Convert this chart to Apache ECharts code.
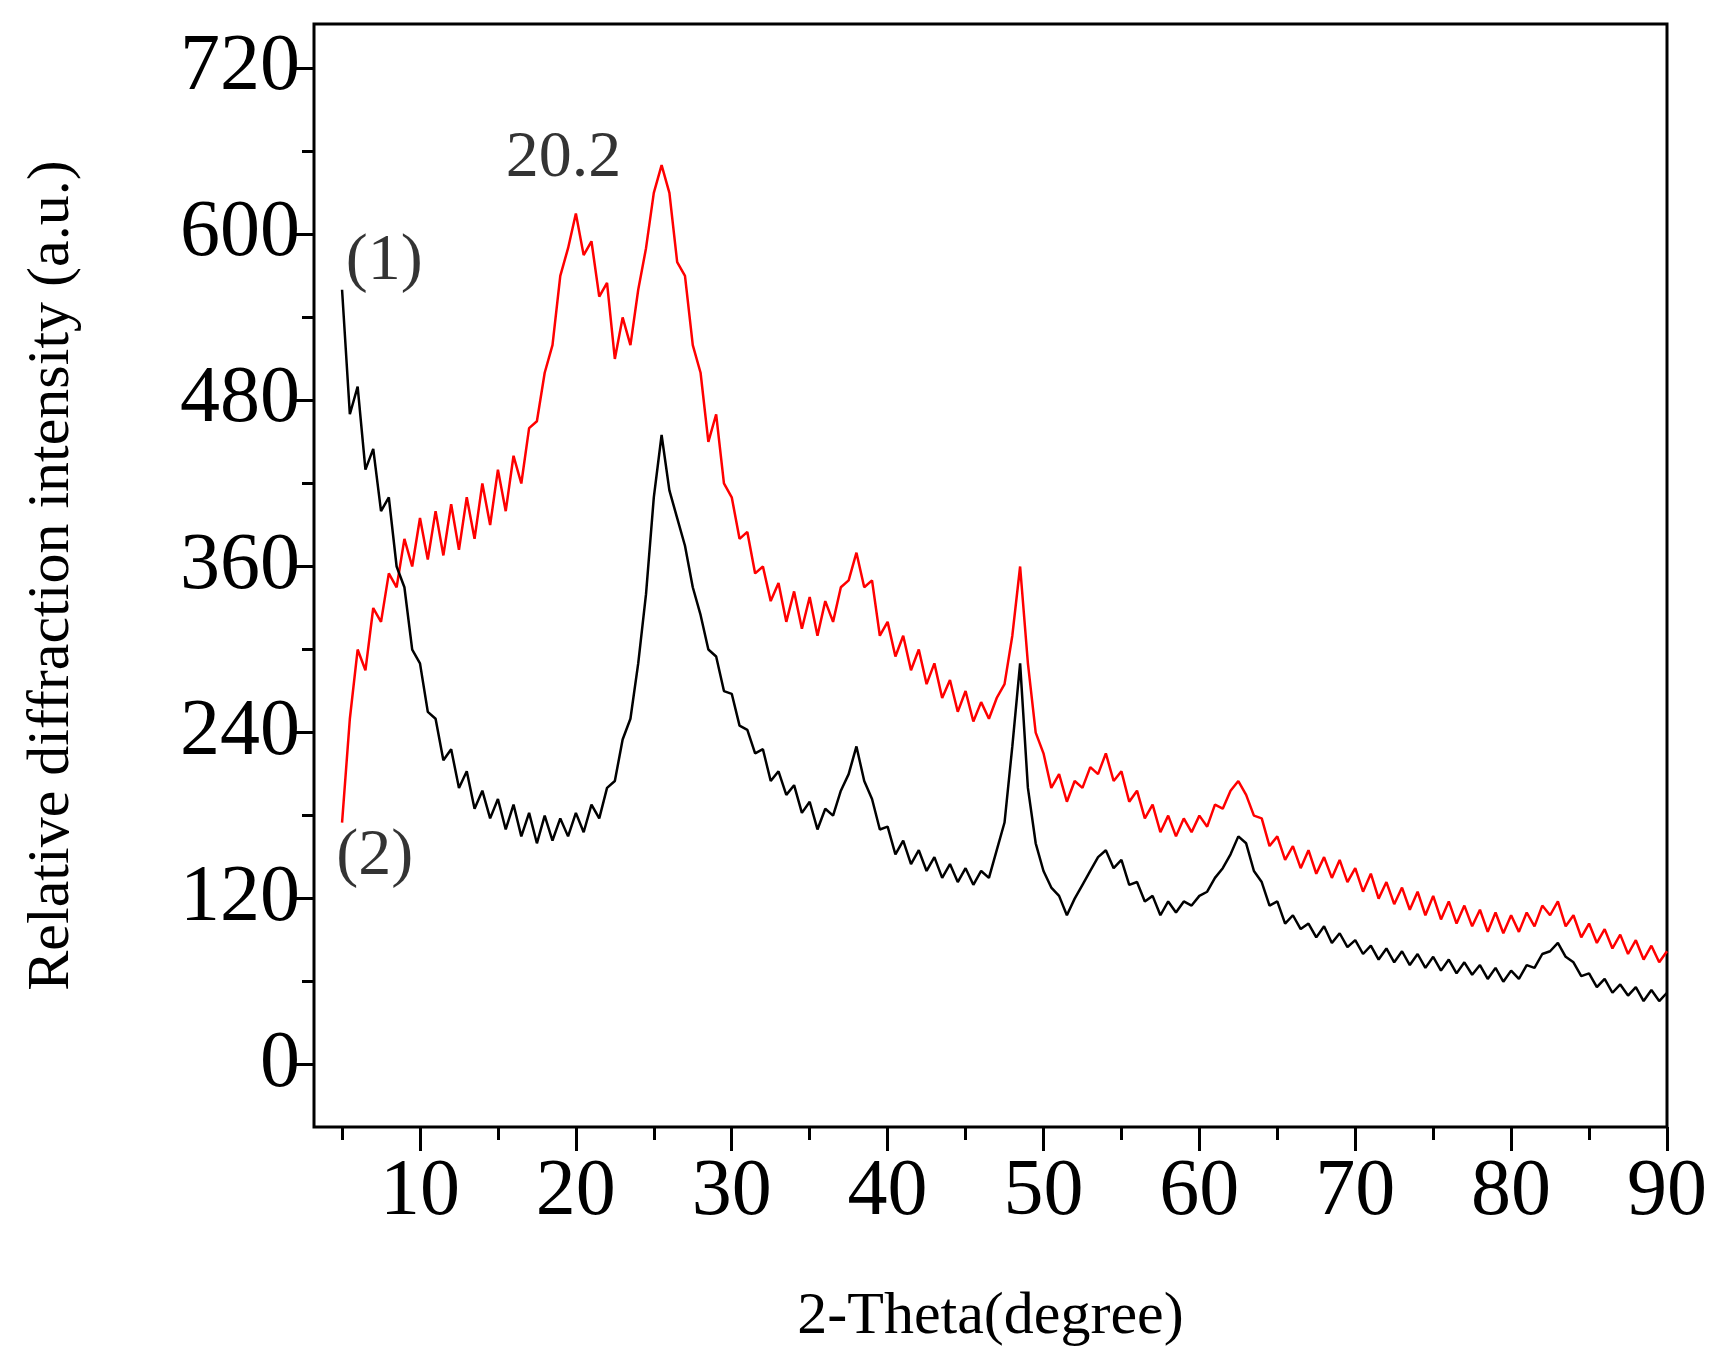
<!DOCTYPE html>
<html><head><meta charset="utf-8">
<script src="https://cdn.jsdelivr.net/npm/echarts@6/dist/echarts.min.js"></script>
<style>html,body{margin:0;background:#fff}#c{width:1719px;height:1356px}</style>
</head><body><div id="c"></div>
<script>
const xStart = 5, xStep = 0.5;
const series2Black = [560,470,490,430,445,400,410,360,345,300,290,255,250,220,228,200,212,185,198,178,192,170,188,165,182,160,180,162,178,165,182,168,188,178,200,205,235,250,290,340,410,455,415,395,375,345,325,300,295,270,268,245,242,225,228,205,212,195,202,182,190,170,185,180,198,210,230,205,192,170,172,152,162,145,155,140,150,135,145,132,142,130,140,135,155,175,230,290,200,160,140,128,122,108,120,130,140,150,155,142,148,130,132,118,122,108,118,110,118,115,122,125,135,142,152,165,160,140,132,115,118,102,108,98,102,92,100,88,95,85,90,80,86,76,84,74,82,72,80,70,78,68,76,66,74,65,72,62,70,60,68,62,72,70,80,82,88,78,74,64,66,56,62,52,58,50,56,46,54,46,52];
const series1Red = [175,250,300,285,330,320,355,345,380,360,395,365,400,368,405,372,410,380,420,390,430,400,440,420,460,465,500,520,570,590,615,585,595,555,565,510,540,520,560,590,630,650,630,580,570,520,500,450,470,420,410,380,385,355,360,335,348,320,342,315,338,310,335,320,345,350,370,345,350,310,320,295,310,285,300,275,290,265,278,255,270,248,262,250,265,275,310,360,290,240,225,200,210,190,205,200,215,210,225,205,212,190,198,178,188,168,180,165,178,168,180,172,188,185,198,205,195,180,178,158,165,148,158,142,155,138,150,135,148,132,142,125,138,120,132,116,128,112,125,108,122,105,118,102,115,100,112,96,110,95,108,96,110,100,115,108,118,100,108,92,102,88,98,84,94,80,90,76,86,74,82];
const xMajorTicks = [10,20,30,40,50,60,70,80,90];
const xMinorTicks = [5,15,25,35,45,55,65,75,85];
const yMajorTicks = [0,120,240,360,480,600,720];
const yMinorTicks = [60,180,300,420,540,660];
const annotations = [
  {text:'(1)', x:7.7, y:580},
  {text:'(2)', x:7.1, y:150},
  {text:'20.2', x:19.2, y:655}
];
const toXY = arr => arr.map((v,i)=>[xStart + i*xStep, v]);
const font = 'Liberation Serif';
const X0 = 3.2, X1 = 90, Y0 = -45, Y1 = 752;
function xAx(ticks, len, labels){
  return {type:'value', min:X0, max:X1, position:'bottom',
    axisLine:{show:false, onZero:false}, splitLine:{show:false},
    axisTick:{show:true, customValues:ticks, length:len, lineStyle:{color:'#000', width:3}},
    axisLabel:{show:labels, customValues:ticks, fontFamily:font, fontSize:80, color:'#000', margin:26}};
}
function yAx(ticks, len, labels){
  return {type:'value', min:Y0, max:Y1, position:'left',
    axisLine:{show:false, onZero:false}, splitLine:{show:false},
    axisTick:{show:true, customValues:ticks, length:len, lineStyle:{color:'#000', width:3}},
    axisLabel:{show:labels, customValues:ticks, fontFamily:font, fontSize:80, color:'#000', margin:14}};
}
const xa = xAx(xMajorTicks, 24, true);
xa.name = '2-Theta(degree)'; xa.nameLocation='middle'; xa.nameGap=160;
xa.nameTextStyle = {fontFamily:font, fontSize:60, color:'#000'};
const ya = yAx(yMajorTicks, 22, true);
ya.name = 'Relative diffraction intensity (a.u.)'; ya.nameLocation='middle'; ya.nameGap=232;
ya.nameTextStyle = {fontFamily:font, fontSize:60, color:'#000'};
const chart = echarts.init(document.getElementById('c'));
chart.setOption({
  animation:false,
  grid:{left:314, right:52, top:24, bottom:229, show:true, borderColor:'#000', borderWidth:3, backgroundColor:'transparent'},
  xAxis:[xa, xAx(xMinorTicks, 13, false)],
  yAxis:[ya, yAx(yMinorTicks, 12, false)],
  series:[
    {type:'line', data:toXY(series1Red), showSymbol:false, lineStyle:{color:'#ff0000', width:2.5}},
    {type:'line', data:toXY(series2Black), showSymbol:false, lineStyle:{color:'#000', width:2.5}},
    {type:'scatter', symbolSize:1, itemStyle:{color:'rgba(0,0,0,0)'}, data:annotations.map(a=>({value:[a.x,a.y], name:a.text})),
     label:{show:true, position:'inside', formatter:p=>p.name, fontFamily:font, fontSize:66, color:'#000', textBorderWidth:0}}
  ]
});
</script></body></html>
